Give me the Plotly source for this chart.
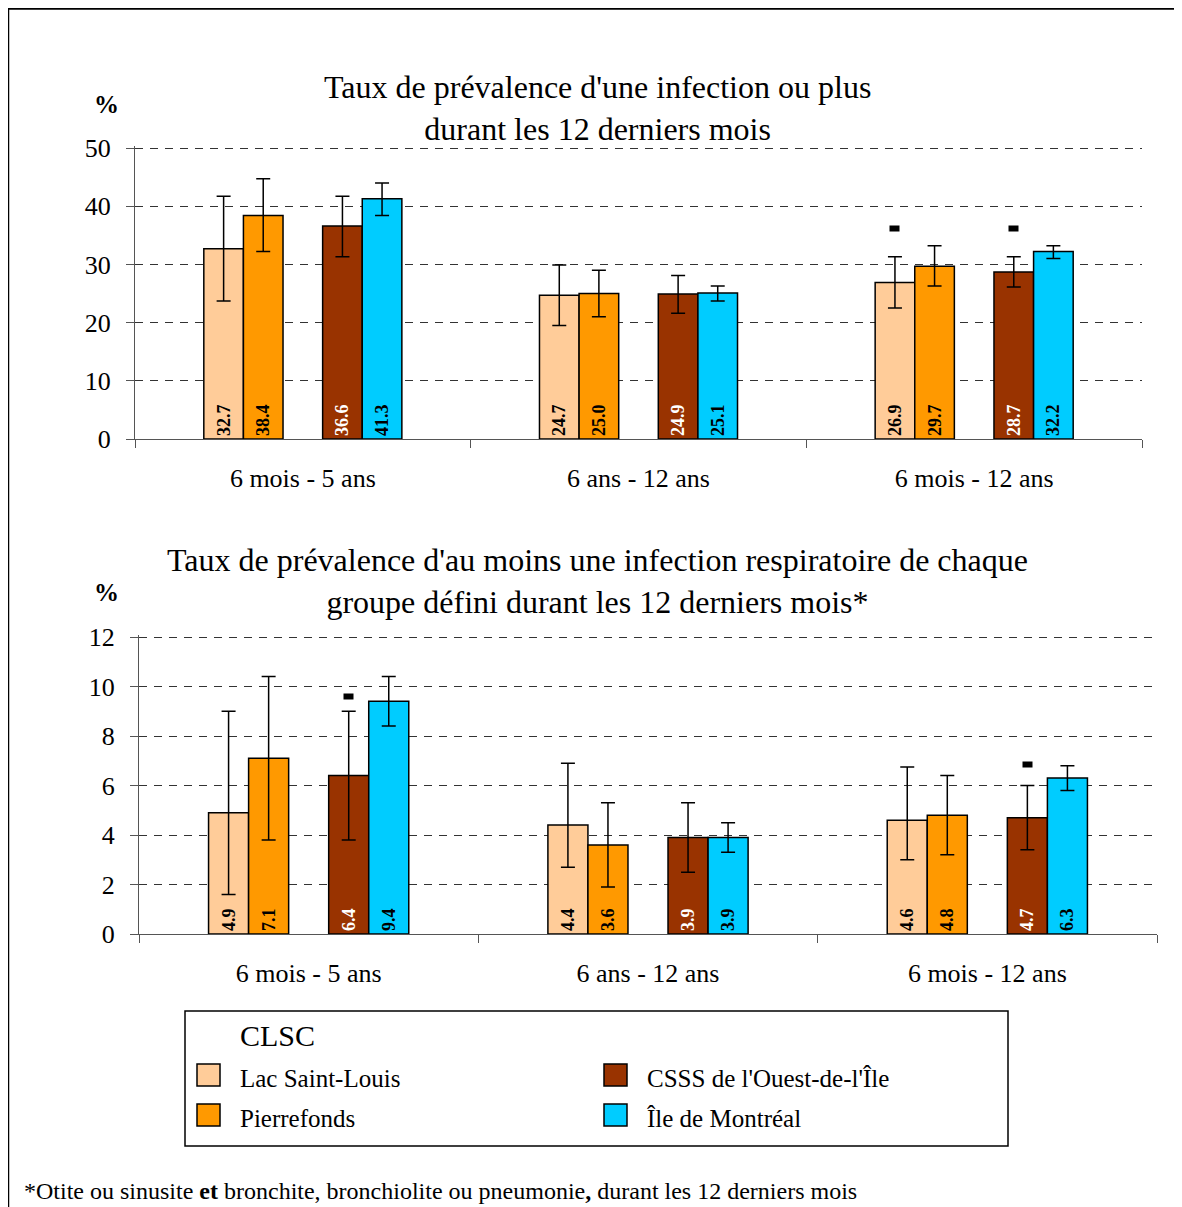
import plotly.graph_objects as go

W, H = 1182, 1207
OFF = 8  # page body margin in the browser
FONT = "Liberation Serif"

categories = ["6 mois - 5 ans", "6 ans - 12 ans", "6 mois - 12 ans"]
series_names = ["Lac Saint-Louis", "Pierrefonds", "CSSS de l'Ouest-de-l'Île", "Île de Montréal"]
series_colors = ["#FFCC99", "#FF9900", "#993300", "#00CCFF"]
label_colors = ["black", "black", "white", "black"]

# Chart 1: one infection or more
top_values = [
    [32.7, 24.7, 26.9],
    [38.4, 25.0, 29.7],
    [36.6, 24.9, 28.7],
    [41.3, 25.1, 32.2],
]
top_low = [
    [23.7, 19.5, 22.5],
    [32.2, 21.0, 26.3],
    [31.3, 21.6, 26.1],
    [38.4, 23.7, 31.0],
]
top_high = [
    [41.7, 29.9, 31.3],
    [44.7, 29.0, 33.2],
    [41.7, 28.1, 31.3],
    [44.0, 26.3, 33.2],
]
# "-" markers (series index, category index, y)
top_marks = [(0, 2, 36.2), (2, 2, 36.2)]

# Chart 2: at least one respiratory infection of each group
bot_values = [
    [4.9, 4.4, 4.6],
    [7.1, 3.6, 4.8],
    [6.4, 3.9, 4.7],
    [9.4, 3.9, 6.3],
]
bot_low = [
    [1.6, 2.7, 3.0],
    [3.8, 1.9, 3.2],
    [3.8, 2.5, 3.4],
    [8.4, 3.3, 5.8],
]
bot_high = [
    [9.0, 6.9, 6.75],
    [10.4, 5.3, 6.4],
    [9.0, 5.3, 6.0],
    [10.4, 4.5, 6.8],
]
bot_marks = [(2, 0, 9.6), (2, 2, 6.83)]

top_title = "Taux de prévalence d'une infection ou plus<br>durant les 12 derniers mois"
bot_title = ("Taux de prévalence d'au moins une infection respiratoire de chaque<br>"
             "groupe défini durant les 12 derniers mois*")
footnote = ("*Otite ou sinusite <b>et</b> bronchite, bronchiolite ou pneumonie<b>,</b> "
            "durant les 12 derniers mois")

BARGAP = 0.41
NSLOT = 5  # 4 series + one blank slot in the middle


def px(x):
    return (x - OFF) / W


def py(y):
    return 1 - (y - OFF) / H


fig = go.Figure()


def add_bars(values, low, high, xa, ya):
    for i, name in enumerate(series_names):
        if i == 2:
            # blank spacer slot between the two pairs
            fig.add_trace(go.Bar(
                x=categories, y=[0, 0, 0], xaxis=xa, yaxis=ya,
                marker=dict(color="rgba(0,0,0,0)", line=dict(width=0)),
                showlegend=False, hoverinfo="skip"))
        vals = values[i]
        fig.add_trace(go.Bar(
            x=categories, y=vals, name=name, xaxis=xa, yaxis=ya,
            showlegend=False,
            marker=dict(color=series_colors[i], line=dict(color="black", width=1.5)),
            text=[f"{v:.1f}" for v in vals],
            textposition="inside", insidetextanchor="start", textangle=-90,
            constraintext="none",
            textfont=dict(family=FONT, size=18, color=label_colors[i], weight="bold"),
            error_y=dict(type="data", symmetric=False,
                         array=[h - v for h, v in zip(high[i], vals)],
                         arrayminus=[v - l for v, l in zip(vals, low[i])],
                         color="black", thickness=1.5, width=7),
        ))


add_bars(top_values, top_low, top_high, "x", "y")
add_bars(bot_values, bot_low, bot_high, "x2", "y2")

slot_w = (1 - BARGAP) / NSLOT
slot_of_series = [0, 1, 3, 4]


def mark_annotations(marks, xref, yref):
    out = []
    for s, c, yv in marks:
        out.append(dict(
            x=c + (slot_of_series[s] - 2) * slot_w, y=yv, xref=xref, yref=yref,
            xanchor="center", yanchor="middle",
            text="-", showarrow=False, bgcolor="black", width=9, height=5, borderpad=0,
            font=dict(family=FONT, size=5, color="black")))
    return out


axis_font = dict(family=FONT, size=26, color="black")

common_x = dict(type="category", showline=True, linecolor="#555", linewidth=1,
                ticks="outside", tickson="boundaries", ticklen=8, tickcolor="#555",
                tickfont=axis_font, showgrid=False, ticklabelstandoff=16,
                fixedrange=True, automargin=False)
common_y = dict(showline=True, linecolor="#555", linewidth=1, ticks="outside",
                ticklen=8, tickcolor="#555", tickfont=axis_font,
                showgrid=True, gridcolor="#333", gridwidth=1, griddash="8px,7px",
                zeroline=False, ticklabelstandoff=10, fixedrange=True, automargin=False)

# small headroom so the top grid line (50 / 12) is drawn
top_max, bot_max = 50.35, 12.08
top_ppu = (439 - 148) / 50
bot_ppu = (934 - 637) / 12

fig.update_layout(
    width=W, height=H,
    margin=dict(l=0, r=0, t=0, b=0, autoexpand=False),
    paper_bgcolor="white", plot_bgcolor="white",
    barmode="group", bargap=BARGAP, bargroupgap=0,
    showlegend=False,
    font=dict(family=FONT, color="black"),
    xaxis=dict(common_x, domain=[px(135), px(1142)], anchor="y"),
    yaxis=dict(common_y, domain=[py(439), py(439 - top_max * top_ppu)],
               range=[0, top_max], tickvals=[0, 10, 20, 30, 40, 50], anchor="x"),
    xaxis2=dict(common_x, domain=[px(139), px(1157)], anchor="y2"),
    yaxis2=dict(common_y, domain=[py(934), py(934 - bot_max * bot_ppu)],
                range=[0, bot_max], tickvals=[0, 2, 4, 6, 8, 10, 12], anchor="x2"),
)

shapes = [
    # outer frame (right and bottom sides fall outside the visible page)
    dict(type="rect", xref="paper", yref="paper", x0=px(8), x1=px(1200), y0=py(1230), y1=py(8.5),
         line=dict(color="black", width=2.5)),
    # legend box
    dict(type="rect", xref="paper", yref="paper", x0=px(185), x1=px(1008), y0=py(1146), y1=py(1011),
         line=dict(color="black", width=1.5)),
]

annotations = [
    dict(x=px(597), y=py(108), xref="paper", yref="paper", text=top_title, showarrow=False,
         font=dict(family=FONT, size=32, color="black"), xanchor="center", yanchor="middle"),
    dict(x=px(597), y=py(581), xref="paper", yref="paper", text=bot_title, showarrow=False,
         font=dict(family=FONT, size=32, color="black"), xanchor="center", yanchor="middle"),
    dict(x=px(106), y=py(104), xref="paper", yref="paper", text="<b>%</b>", showarrow=False,
         xanchor="center", yanchor="middle", font=dict(family=FONT, size=25, color="black")),
    dict(x=px(106), y=py(592), xref="paper", yref="paper", text="<b>%</b>", showarrow=False,
         xanchor="center", yanchor="middle", font=dict(family=FONT, size=25, color="black")),
    dict(x=px(22), y=py(1191), xref="paper", yref="paper", text=footnote, showarrow=False,
         xanchor="left", yanchor="middle", font=dict(family=FONT, size=24, color="black")),
    dict(x=px(238), y=py(1035), xref="paper", yref="paper", text="CLSC", showarrow=False,
         xanchor="left", yanchor="middle", font=dict(family=FONT, size=30, color="black")),
]

# manual legend (two columns)
legend_pos = [(197, 1075), (197, 1115), (604, 1075), (604, 1115)]
for i, name in enumerate(series_names):
    lx, ly = legend_pos[i]
    shapes.append(dict(type="rect", xref="paper", yref="paper",
                       x0=px(lx), x1=px(lx + 23), y0=py(ly + 11), y1=py(ly - 11),
                       fillcolor=series_colors[i], line=dict(color="black", width=1.5)))
    annotations.append(dict(x=px(lx + 41), y=py(ly + 3), xref="paper", yref="paper", text=name,
                            showarrow=False, xanchor="left", yanchor="middle",
                            font=dict(family=FONT, size=25, color="black")))

annotations += mark_annotations(top_marks, "x", "y")
annotations += mark_annotations(bot_marks, "x2", "y2")

fig.update_layout(shapes=shapes, annotations=annotations)

fig.write_html("out.html")
